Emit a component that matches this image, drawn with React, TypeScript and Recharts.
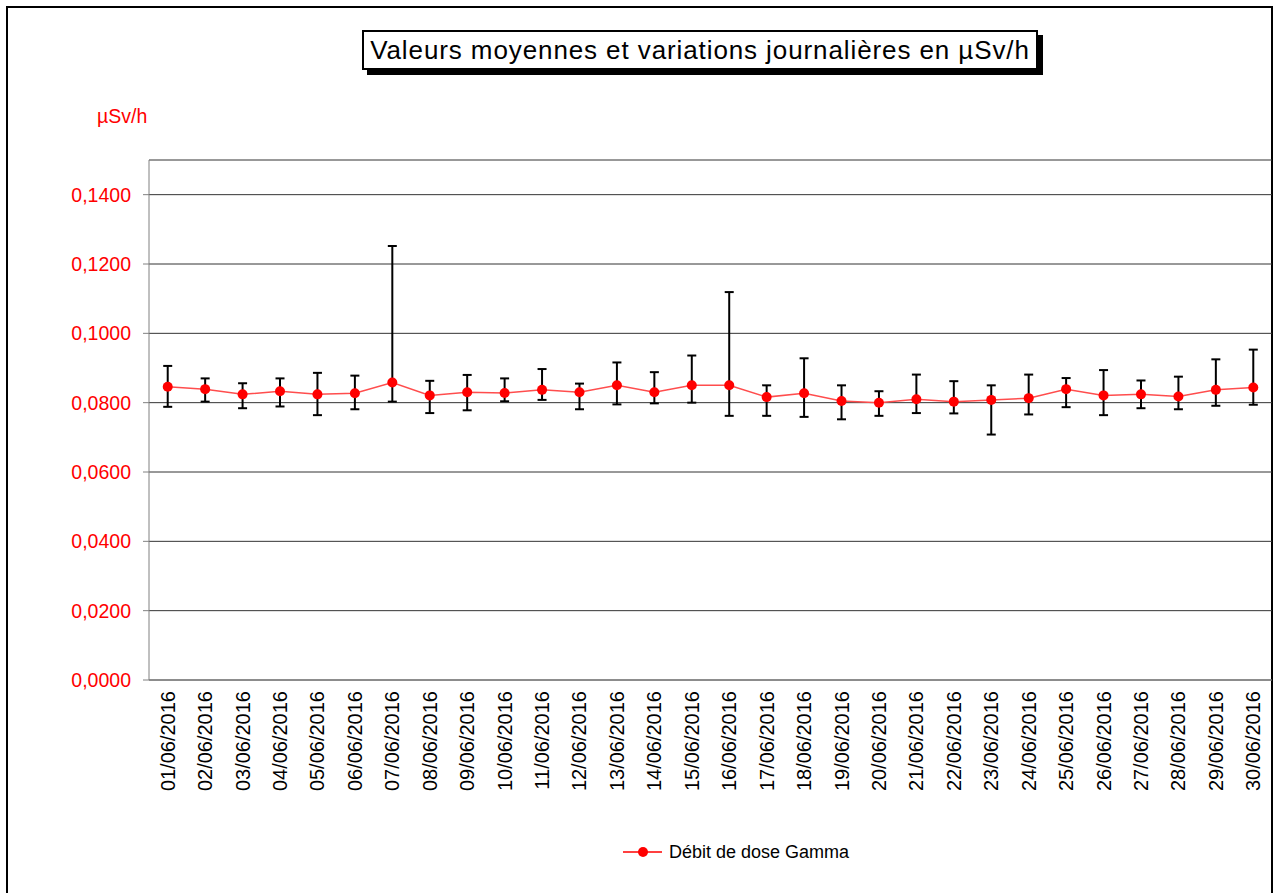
import { LineChart, Line, XAxis, YAxis, CartesianGrid, ErrorBar } from 'recharts'

const DATES = [
  '01/06/2016', '02/06/2016', '03/06/2016', '04/06/2016', '05/06/2016', '06/06/2016',
  '07/06/2016', '08/06/2016', '09/06/2016', '10/06/2016', '11/06/2016', '12/06/2016',
  '13/06/2016', '14/06/2016', '15/06/2016', '16/06/2016', '17/06/2016', '18/06/2016',
  '19/06/2016', '20/06/2016', '21/06/2016', '22/06/2016', '23/06/2016', '24/06/2016',
  '25/06/2016', '26/06/2016', '27/06/2016', '28/06/2016', '29/06/2016', '30/06/2016',
]

const MEAN = [
  0.0846, 0.0839, 0.0824, 0.0833, 0.0824, 0.0827, 0.0858, 0.0821, 0.083, 0.0828,
  0.0837, 0.083, 0.085, 0.083, 0.085, 0.085, 0.0816, 0.0827, 0.0805, 0.08,
  0.081, 0.0803, 0.0808, 0.0813, 0.0839, 0.0821, 0.0824, 0.0818, 0.0837, 0.0844,
]

const MAX = [
  0.0906, 0.087, 0.0856, 0.087, 0.0886, 0.0878, 0.1252, 0.0863, 0.088, 0.087,
  0.0897, 0.0855, 0.0916, 0.0888, 0.0936, 0.1119, 0.085, 0.0928, 0.085, 0.0833,
  0.0881, 0.0862, 0.085, 0.0881, 0.0871, 0.0894, 0.0864, 0.0875, 0.0925, 0.0953,
]

const MIN = [
  0.0788, 0.0803, 0.0784, 0.0789, 0.0764, 0.0781, 0.0803, 0.077, 0.0778, 0.0804,
  0.0808, 0.0781, 0.0795, 0.0798, 0.08, 0.0762, 0.0762, 0.0759, 0.0752, 0.0762,
  0.077, 0.0769, 0.0708, 0.0766, 0.0787, 0.0764, 0.0784, 0.0781, 0.0791, 0.0794,
]

const Y_TICKS = [0, 0.02, 0.04, 0.06, 0.08, 0.1, 0.12, 0.14]
const EDGE_TICKS = Array.from({ length: DATES.length + 1 }, (_, i) => i)

const FONT = '"Liberation Sans", Arial, sans-serif'

const data = DATES.map((date, i) => ({
  date,
  value: MEAN[i],
  range: [MEAN[i] - MIN[i], MAX[i] - MEAN[i]],
}))

const DateTick = (props: any) => {
  const { x, y, payload } = props
  return (
    <text
      x={x}
      y={y}
      transform={`rotate(-90, ${x}, ${y})`}
      textAnchor="end"
      dominantBaseline="central"
      fontSize={20}
      fontFamily={FONT}
      fill="#000"
    >
      {payload.value}
    </text>
  )
}

export default function App() {
  return (
    <div style={{ position: 'relative', width: 1279, height: 893, overflow: 'hidden', background: '#fff' }}>
      <style>{'body{margin:0}'}</style>
      <div
        style={{
          position: 'absolute', left: 6, top: 6, width: 1267, height: 940,
          border: '2.5px solid #000', boxSizing: 'border-box',
        }}
      />
      <LineChart
        width={1279}
        height={893}
        data={data}
        margin={{ top: 160, left: 69, right: 7, bottom: 92 }}
        style={{ position: 'absolute', left: 0, top: 0 }}
      >
        <CartesianGrid xAxisId="dates" vertical={false} stroke="#333" strokeWidth={1} />
        <XAxis
          xAxisId="a-edges"
          type="number"
          domain={[0, DATES.length]}
          ticks={EDGE_TICKS}
          interval={0}
          height={1}
          tick={false}
          tickSize={6}
          axisLine={{ stroke: '#808080' }}
          tickLine={{ stroke: '#808080' }}
        />
        <XAxis
          xAxisId="dates"
          dataKey="date"
          scale="band"
          height={120}
          interval={0}
          tickLine={false}
          axisLine={false}
          tickMargin={10}
          tickSize={0}
          tick={<DateTick />}
        />
        <XAxis
          xAxisId="top"
          orientation="top"
          type="number"
          domain={[0, 1]}
          height={0}
          tick={false}
          tickLine={false}
          axisLine={{ stroke: '#c0c0c0' }}
        />
        <YAxis
          domain={[0, 0.15]}
          ticks={Y_TICKS}
          width={80}
          tickSize={6}
          tickMargin={12}
          interval={0}
          axisLine={{ stroke: '#808080' }}
          tickLine={{ stroke: '#808080' }}
          tick={{ fill: '#ff0000', fontSize: 19.5, fontFamily: FONT }}
          tickFormatter={(v: number) => v.toFixed(4).replace('.', ',')}
        />
        <YAxis
          yAxisId="right"
          orientation="right"
          domain={[0, 1]}
          width={0}
          tick={false}
          tickLine={false}
          axisLine={{ stroke: '#c0c0c0' }}
        />
        <Line
          xAxisId="dates"
          dataKey="value"
          stroke="#ff4d4d"
          strokeWidth={1.5}
          dot={{ r: 5, fill: '#ff0000', stroke: 'none' }}
          isAnimationActive={false}
        >
          <ErrorBar dataKey="range" direction="y" width={4.5} stroke="#000" strokeWidth={2} isAnimationActive={false} />
        </Line>
      </LineChart>

      <div
        style={{
          position: 'absolute', left: 362, top: 30, width: 676, height: 40,
          border: '2px solid #000', boxSizing: 'border-box', background: '#fff',
          boxShadow: '5px 5px 0 #000', display: 'flex', alignItems: 'center', justifyContent: 'center',
          fontFamily: FONT, fontSize: 26, letterSpacing: 0.9, color: '#000', whiteSpace: 'nowrap',
        }}
      >
        Valeurs moyennes et variations journalières en µSv/h
      </div>

      <div
        style={{
          position: 'absolute', left: 97, top: 105, fontFamily: FONT, fontSize: 19.5, color: '#ff0000',
        }}
      >
        µSv/h
      </div>

      <div
        style={{
          position: 'absolute', left: 622, top: 840, display: 'flex', alignItems: 'center',
          fontFamily: FONT, fontSize: 18, color: '#000',
        }}
      >
        <svg width={42} height={24} style={{ marginRight: 5 }}>
          <line x1={1} y1={12} x2={40} y2={12} stroke="#ff0000" strokeWidth={1.5} />
          <circle cx={21} cy={12} r={5} fill="#ff0000" />
        </svg>
        Débit de dose Gamma
      </div>
    </div>
  )
}
